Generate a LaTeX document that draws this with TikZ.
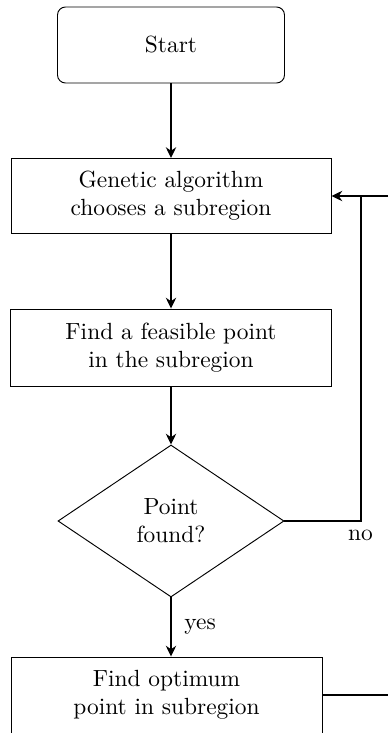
\documentclass[tikz,border=0pt]{standalone}
\usetikzlibrary{shapes.geometric,arrows.meta}
\def\u{0.4274pt}
\begin{document}
\begin{tikzpicture}[x=0.4274pt,y=0.4274pt,
  box/.style={draw,rectangle,inner sep=0pt,align=center,font=\normalsize},
  startbox/.style={box,rounded corners=8*\u},
  decision/.style={draw,diamond,inner sep=0pt,align=center,aspect=1.49},
  flow/.style={thick,-{Stealth[length=4.6pt,width=4.4pt]}},
  line/.style={thick}]
\useasboundingbox (0,0) rectangle (388,-733);
\clip (0,0) rectangle (388,-733);
\node[startbox,minimum width=227*\u,minimum height=76*\u] (start) at (171,-45) {Start};
\node[box,minimum width=320*\u,minimum height=75*\u] (ga) at (171,-196) {Genetic algorithm\\chooses a subregion};
\node[box,minimum width=321*\u,minimum height=77*\u] (feas) at (171,-347.5) {Find a feasible point\\in the subregion};
\node[decision,minimum width=226*\u,minimum height=152*\u] (dec) at (171,-521) {Point\\found?};
\node[box,minimum width=311*\u,minimum height=76*\u] (opt) at (166.5,-695) {Find optimum\\point in subregion};
\coordinate (junc) at (361,-196);
\coordinate (topR) at (388,-196);
\coordinate (botR) at (388,-695);
\draw[flow] (start.south) -- (ga.north);
\draw[flow] (ga.south) -- (feas.north);
\draw[flow] (feas.south) -- (dec.north);
\draw[flow] (dec.south) -- node[right,xshift=2pt] (yes) {yes} (dec.south |- opt.north);
\draw[line] (dec.east) -| (junc);
\draw[flow] (topR) -- (ga.east);
\draw[line] (opt.east) -- (botR);
\node (no) at (360.5,-535) {no};
\end{tikzpicture}
\end{document}
